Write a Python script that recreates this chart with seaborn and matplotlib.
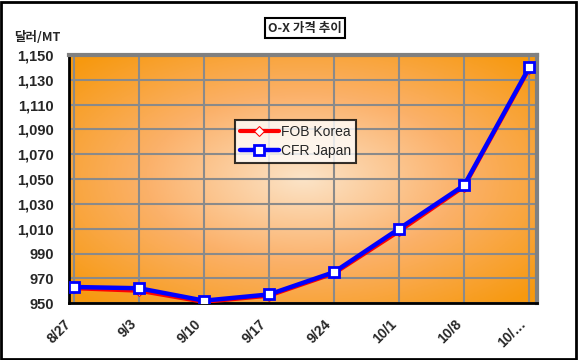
import numpy as np
import pandas as pd
import matplotlib
matplotlib.use("Agg")
import matplotlib.pyplot as plt
import seaborn as sns
from matplotlib.colors import LinearSegmentedColormap
from matplotlib.patches import Rectangle

dates = ["8/27", "9/3", "9/10", "9/17", "9/24", "10/1", "10/8", "10/…"]
fob_korea = [962, 960, 951, 956, 974, 1008, 1044, 1139]
cfr_japan = [963, 962, 952, 957, 975, 1010, 1045, 1140]
yticks = [950, 970, 990, 1010, 1030, 1050, 1070, 1090, 1110, 1130, 1150]

sns.set_style("white")
plt.rcParams['font.family'] = ['Noto Sans CJK KR', 'DejaVu Sans']

fig = plt.figure(figsize=(5.78, 3.6), dpi=100)
ax = fig.add_axes([0.119, 0.158, 0.810, 0.689])

# radial gradient background
n = 300
yy, xx = np.mgrid[-1:1:n*1j, -1:1:n*1j]
r = np.sqrt(xx**2 + yy**2) / np.sqrt(2)
cmap = LinearSegmentedColormap.from_list("og", ["#FCE4C8", "#FBB16A", "#F7990F"])
ax.imshow(r, extent=[0, 1, 0, 1], transform=ax.transAxes, cmap=cmap,
          aspect="auto", zorder=0, vmin=0, vmax=0.95)

df = pd.DataFrame({
    "x": list(range(len(dates))) * 2,
    "y": fob_korea + cfr_japan,
    "s": ["FOB Korea"] * len(dates) + ["CFR Japan"] * len(dates),
})

sns.lineplot(data=df[df.s == "FOB Korea"], x="x", y="y", ax=ax, color="#FF0000",
             lw=3, marker="D", markersize=5, markerfacecolor="white",
             markeredgecolor="#FF0000", label="FOB Korea", zorder=3)
sns.lineplot(data=df[df.s == "CFR Japan"], x="x", y="y", ax=ax, color="#0000FF",
             lw=3.2, marker="s", markersize=7, markerfacecolor="white",
             markeredgecolor="#0000FF", markeredgewidth=2, label="CFR Japan", zorder=4)

ax.set_xlim(-0.08, 7.12)
ax.set_ylim(950, 1150)
ax.set_xticks(range(len(dates)))
ax.set_xticklabels(dates, rotation=45, ha="right", fontsize=10, fontweight="bold",
                   family=["Liberation Sans", "DejaVu Sans"])
ax.set_yticks(yticks)
ax.set_yticklabels([f"{v:,}" for v in yticks], fontsize=10.5, fontweight="bold",
                   family=["Liberation Sans"])
ax.set_xlabel("")
ax.set_ylabel("")
ax.grid(True, color="#8a8a8a", lw=1.5, ls="-", zorder=1)
for l in ax.get_xgridlines() + ax.get_ygridlines():
    l.set_zorder(1)
ax.tick_params(axis="both", length=4, width=1.5, color="black", direction="in")
ax.tick_params(axis="y", pad=11)
ax.tick_params(axis="x", pad=10)
for s in ["left", "bottom"]:
    ax.spines[s].set_color("black")
    ax.spines[s].set_linewidth(2)
for s in ["top", "right"]:
    ax.spines[s].set_color("#808080")
    ax.spines[s].set_linewidth(3)

leg = ax.legend(loc="upper left", bbox_to_anchor=(0.34, 0.765), frameon=True,
                fancybox=False, edgecolor="black", fontsize=10, handlelength=2.8,
                borderpad=0.35, labelspacing=0.35, handletextpad=0.2,
                prop=dict(family="Liberation Sans", size=10))
leg.get_frame().set_linewidth(1.5)

fig.text(0.528, 0.922, "O-X 가격 추이", ha="center", va="center", fontsize=9,
         fontweight="bold",
         bbox=dict(boxstyle="square,pad=0.25", fc="white", ec="black", lw=1.5))
fig.text(0.025, 0.895, "달러/MT", ha="left", va="center", fontsize=9, fontweight="bold")

fig.add_artist(Rectangle((0.002, 0.004), 0.994, 0.99, transform=fig.transFigure,
                         fill=False, ec="black", lw=2))

fig.savefig("out.png", dpi=100)
